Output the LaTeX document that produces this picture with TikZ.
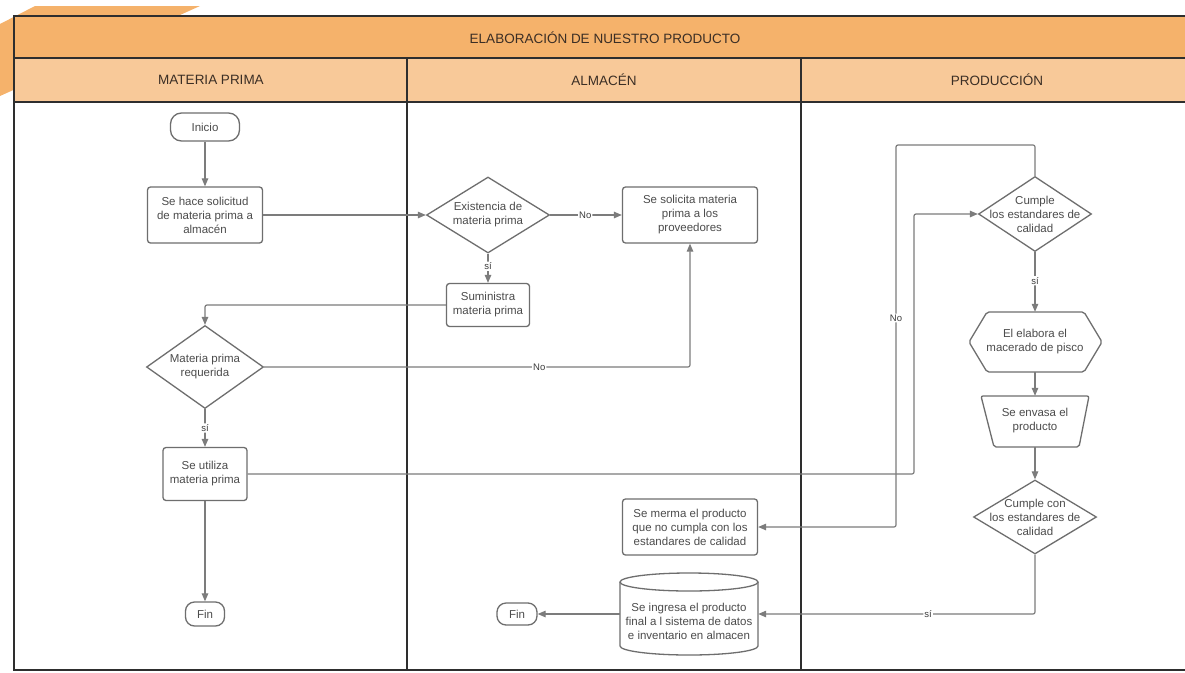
\documentclass[tikz,border=0pt]{standalone}
\usepackage{fontspec}
\setmainfont{Liberation Sans}
\usetikzlibrary{arrows.meta,shapes.geometric,calc}
\definecolor{titleor}{HTML}{F5B26B}
\definecolor{heador}{HTML}{F8C999}
\definecolor{laneln}{HTML}{2E2E2E}
\definecolor{nodeln}{HTML}{6E6E6E}
\definecolor{connln}{HTML}{7C7C7C}
\definecolor{txtg}{HTML}{4C4C4C}
\definecolor{hdrtxt}{HTML}{3B2E25}
\newcommand\mynodefont{\fontsize{11.5}{14}\selectfont}
\newcommand\myhdrfont{\fontsize{13.5}{16}\selectfont}
\newcommand\mylblfont{\fontsize{9.5}{11}\selectfont}
\begin{document}
\begin{tikzpicture}[x=1pt,y=-1pt,
  lane/.style={draw=laneln,line width=1.1pt},
  hdr/.style={font=\myhdrfont,text=hdrtxt,inner sep=0pt},
  box/.style={draw=nodeln,line width=1.3pt,rounded corners=3pt,fill=white,align=center,text=txtg,font=\mynodefont,inner sep=1pt},
  term/.style={box,rounded corners=11pt},
  dia/.style={diamond,draw=nodeln,line width=1.3pt,fill=white,inner sep=0pt,aspect=1.5},
  txt/.style={align=center,text=txtg,font=\mynodefont,inner sep=0pt},
  ghost/.style={inner sep=0pt},
  shp/.style={draw=nodeln,line width=1.3pt,fill=white},
  conn/.style={draw=connln,line width=1.2pt,-{Triangle[length=8pt,width=6.5pt]},rounded corners=2pt},
  lbl/.style={font=\mylblfont,text=txtg!80!black,fill=white,inner sep=1pt}
]
\useasboundingbox (0,0) rectangle (1185,672);
% decorative orange band
\fill[titleor] (0,24) -- (35,6) -- (200,6) -- (0,96) -- cycle;
% pool
\fill[white] (14,102) rectangle (1193,670);
\filldraw[fill=titleor,lane] (14,16) rectangle (1193,58);
\filldraw[fill=heador,lane] (14,58) rectangle (1193,102);
\draw[lane] (14,102) rectangle (1193,670);
\draw[lane] (407,58) -- (407,670);
\draw[lane] (801,58) -- (801,670);
\node[hdr] (ttl) at (605,38) {ELABORACIÓN DE NUESTRO PRODUCTO};
\node[hdr] (h1) at (211,80) {MATERIA PRIMA};
\node[hdr] (h2) at (604,80) {ALMACÉN};
\node[hdr] (h3) at (997,80) {PRODUCCIÓN};

% nodes
\node[term,minimum width=69pt,minimum height=28pt] (ini) at (205,127) {Inicio};
\node[box,minimum width=115pt,minimum height=56pt] (sol) at (205,215) {Se hace solicitud\\de materia prima a\\almacén};
\node[dia,minimum width=123pt,minimum height=76pt] (ex) at (488,215) {};
\node[txt] (ext) at (488,215) {Existencia de\\materia prima};
\node[box,minimum width=135pt,minimum height=56pt] (prov) at (690,215) {Se solicita materia\\prima a los\\proveedores};
\node[box,minimum width=83pt,minimum height=43pt] (sum) at (488,305) {Suministra\\materia prima};
\node[dia,minimum width=117pt,minimum height=83pt] (mpr) at (205,367) {};
\node[txt] (mprt) at (205,367) {Materia prima\\requerida};
\node[box,minimum width=84pt,minimum height=53pt] (uti) at (205,474) {Se utiliza\\materia prima};
\node[term,minimum width=39pt,minimum height=24pt,rounded corners=9pt] (fin1) at (205,614) {Fin};

\node[dia,minimum width=113pt,minimum height=75pt] (c1) at (1035,214) {};
\node[txt] (c1t) at (1035,214) {Cumple\\los estandares de\\calidad};
% hexagon
\node[ghost,minimum width=133pt,minimum height=60pt] (hex) at (1035,342) {};
\filldraw[shp,rounded corners=2pt] (969,342) -- (987,312) -- (1084,312) -- (1102,342) -- (1084,372) -- (987,372) -- cycle;
\node[txt] (hext) at (1035,342) {El elabora el\\macerado de pisco};
% trapezoid
\node[ghost,minimum width=108pt,minimum height=51pt] (env) at (1035,421.5) {};
\filldraw[shp,rounded corners=2pt] (981,396) -- (1089,396) -- (1079,447) -- (994,447) -- cycle;
\node[txt] (envt) at (1035,421) {Se envasa el\\producto};
\node[dia,minimum width=123pt,minimum height=74pt] (c2) at (1035,517) {};
\node[txt] (c2t) at (1035,517) {Cumple con\\los estandares de\\calidad};

\node[box,minimum width=135pt,minimum height=56pt] (merma) at (690,527) {Se merma el producto\\que no cumpla con los\\estandares de calidad};
% cylinder
\node[ghost,minimum width=138pt,minimum height=82pt] (cyl) at (689,614) {};
\filldraw[shp] (620,582) -- (620,646) arc[start angle=180,end angle=0,x radius=69,y radius=9] -- (758,582);
\filldraw[shp] (689,582) ellipse [x radius=69, y radius=9];
\node[txt] (cylt) at (689,621) {Se ingresa el producto\\final a l sistema de datos\\e inventario en almacen};
\node[term,minimum width=40pt,minimum height=22pt,rounded corners=9pt] (fin2) at (517,614) {Fin};

% helper coordinates
\coordinate (k1) at (914,474);
\coordinate (n2) at (896,145);
\coordinate (n3) at (896,527);

% connectors
\draw[conn] (ini) -- (sol);
\draw[conn] (sol.east) -- (ex.west);
\draw[conn] (ex.east) -- node[lbl,pos=0.49]{No} (prov.west);
\draw[conn] (ex.south) -- node[lbl,pos=0.43]{sí} (sum.north);
\draw[conn] (sum.west) -| (mpr.north);
\draw[conn] (mpr.east) -| node[lbl,pos=0.323]{No} (prov.south);
\draw[conn] (mpr.south) -- node[lbl,pos=0.5]{sí} (uti.north);
\draw[conn] (uti.south) -- (fin1.north);
\draw[conn] (uti.east) -- (k1) |- (c1.west);
\draw[conn] (c1.north) |- (n2) -- node[lbl,pos=0.453]{No} (n3) -- (merma.east);
\draw[conn] (c1.south) -- node[lbl,pos=0.48]{sí} (hex.north);
\draw[conn] (hex.south) -- (env.north);
\draw[conn] (env.south) -- (c2.north);
\draw[conn] (c2.south) |- node[lbl,pos=0.693]{sí} (cyl.east);
\draw[conn] (cyl.west) -- (fin2.east);
\end{tikzpicture}
\end{document}
